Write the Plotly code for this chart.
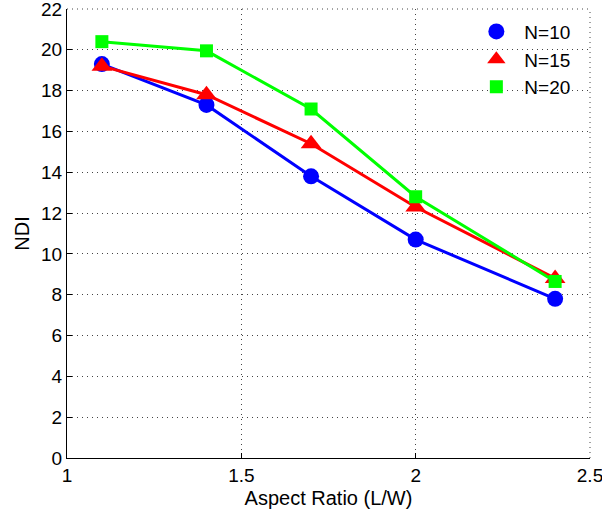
import plotly.graph_objects as go

# Aspect ratio (L/W) sample points
aspect_ratio = [1.1, 1.4, 1.7, 2.0, 2.4]

# NDI for each array size N
ndi_n10 = [19.3, 17.3, 13.8, 10.7, 7.8]
ndi_n15 = [19.2, 17.8, 15.4, 12.3, 8.8]
ndi_n20 = [20.4, 19.95, 17.1, 12.8, 8.65]

series_names = ["N=10", "N=15", "N=20"]
series_values = [ndi_n10, ndi_n15, ndi_n20]
series_colors = ["#0000FF", "#FF0000", "#00FF00"]
series_symbols = ["circle", "triangle-up", "square"]
marker_sizes = [16, 18, 13]

fig = go.Figure()

# Lines with markers (legend entries drawn separately, marker only)
for name, vals, col, sym, ms in zip(series_names, series_values, series_colors, series_symbols, marker_sizes):
    fig.add_trace(go.Scatter(
        x=aspect_ratio, y=vals, name=name, mode="lines+markers", showlegend=False,
        line=dict(color=col, width=3),
        marker=dict(symbol=sym, size=ms, color=col),
    ))

for name, col, sym, ms in zip(series_names, series_colors, series_symbols, marker_sizes):
    fig.add_trace(go.Scatter(
        x=[None], y=[None], name=name, mode="markers",
        marker=dict(symbol=sym, size=ms, color=col),
    ))

font_family = "Liberation Sans, Arial, Helvetica, sans-serif"

axis_common = dict(
    showline=True, linecolor="black", linewidth=1,
    ticks="inside", ticklen=5, tickcolor="black",
    showgrid=True, gridcolor="#444444", gridwidth=1, griddash="1px,4px",
    zeroline=False, mirror=False, automargin=False,
    ticklabeloverflow="allow",
    tickfont=dict(family=font_family, size=19, color="black"),
)

fig.update_xaxes(
    range=[1, 2.5], tickvals=[1, 1.5, 2, 2.5], ticktext=["1", "1.5", "2", "2.5"],
    title=dict(text="Aspect Ratio (L/W)", font=dict(family=font_family, size=20, color="black"), standoff=6),
    **axis_common,
)
fig.update_yaxes(
    range=[0, 22], tickvals=list(range(0, 23, 2)),
    title=dict(text="NDI", font=dict(family=font_family, size=20, color="black"), standoff=6),
    **axis_common,
)

# Dotted frame on the top and right edges of the plot area
for x0, y0, x1, y1 in [(0, 1, 1, 1), (1, 0, 1, 1)]:
    fig.add_shape(type="line", xref="paper", yref="paper", x0=x0, y0=y0, x1=x1, y1=y1,
                  line=dict(color="#444444", width=1, dash="1px,4px"), layer="below")

fig.update_layout(
    width=602, height=515,
    margin=dict(l=67, r=12, t=9, b=57),
    paper_bgcolor="white", plot_bgcolor="white",
    font=dict(family=font_family, size=19, color="black"),
    showlegend=True,
    legend=dict(
        x=0.972, y=0.992, xanchor="right", yanchor="top",
        bgcolor="rgba(0,0,0,0)", borderwidth=0,
        font=dict(family=font_family, size=19, color="black"),
        itemwidth=46, tracegroupgap=0,
    ),
)

fig.write_html("out.html")
